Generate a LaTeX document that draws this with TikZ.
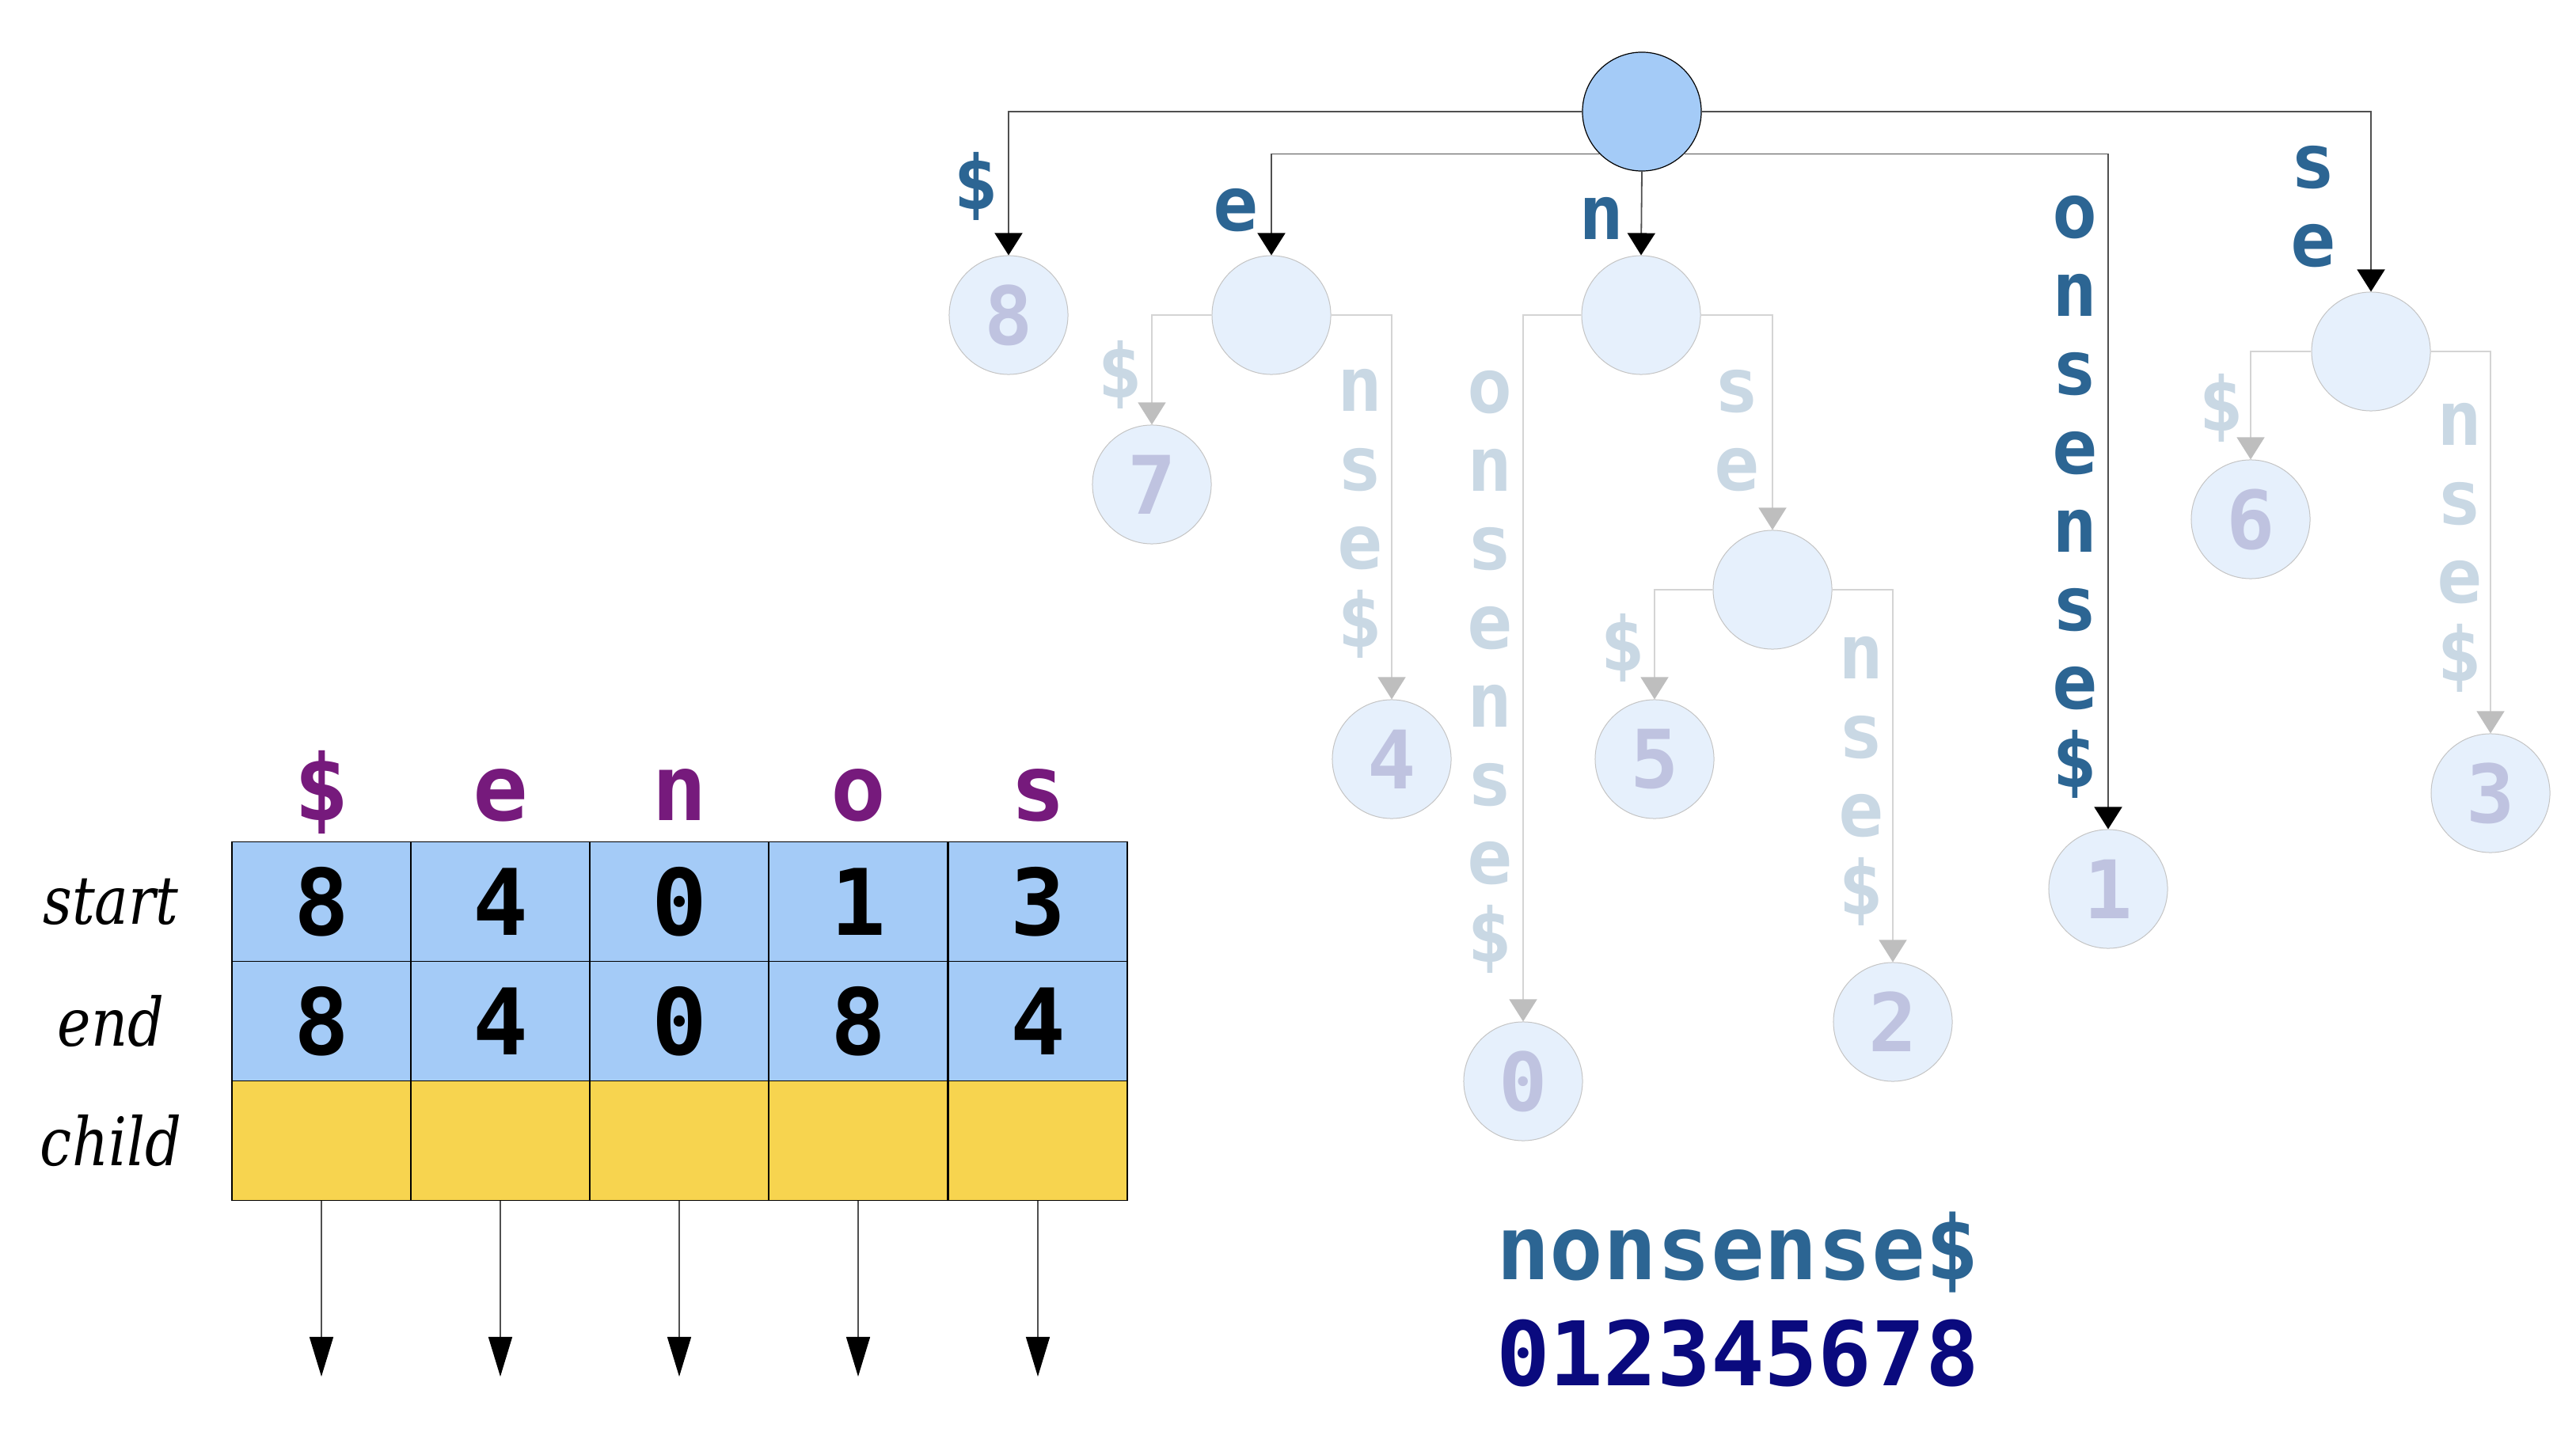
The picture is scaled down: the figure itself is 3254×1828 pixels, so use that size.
\documentclass[tikz,border=0pt]{standalone}
\usepackage{fontspec}
\usetikzlibrary{arrows.meta}
\newfontfamily\monof{DejaVu Sans Mono}
\newfontfamily\serifit[FakeStretch=0.85]{DejaVu Serif}
\definecolor{rootblue}{HTML}{A4CBF7}
\definecolor{tabyellow}{HTML}{F7D44F}
\definecolor{fadefill}{HTML}{E6F0FC}
\definecolor{fadeborder}{HTML}{C4C4C4}
\definecolor{fadenum}{HTML}{BFC3E0}
\definecolor{mainlab}{HTML}{2C6593}
\definecolor{fadelab}{HTML}{C9D8E4}
\definecolor{fadeline}{HTML}{D4D4D4}
\definecolor{fadetip}{HTML}{BEBEBE}
\definecolor{edgegray}{HTML}{505050}
\definecolor{purp}{HTML}{761A7C}
\definecolor{navyd}{HTML}{0A0A7E}
\begin{document}
\begin{tikzpicture}[x=0.01cm,y=-0.01cm,
  rootnode/.style={circle,draw=black,line width=0.012cm,fill=rootblue,minimum size=1.5cm,inner sep=0pt},
  fnode/.style={circle,draw=fadeborder,line width=0.01cm,fill=fadefill,minimum size=1.5cm,inner sep=0pt,text=fadenum,font=\monof\bfseries\fontsize{29}{30}\selectfont},
  medge/.style={draw=edgegray,line width=0.018cm,-{Triangle[width=0.35cm,length=0.28cm,color=black]}},
  fedge/.style={draw=fadeline,line width=0.014cm,-{Triangle[width=0.35cm,length=0.28cm,color=fadetip]}},
  mlabel/.style={text=mainlab,font=\monof\bfseries\fontsize{27}{28.2}\selectfont,align=center,inner sep=0pt},
  flabel/.style={mlabel,text=fadelab},
  cellb/.style={rectangle,draw=black,line width=0.015cm,fill=rootblue,minimum width=2.262cm,minimum height=1.51cm,inner sep=0pt,font=\monof\bfseries\fontsize{33}{33}\selectfont},
  celly/.style={cellb,fill=tabyellow},
  header/.style={text=purp,font=\monof\bfseries\fontsize{33}{33}\selectfont,anchor=base,inner sep=0pt},
  rowlab/.style={font=\serifit\itshape\fontsize{24}{24}\selectfont,inner sep=0pt},
  tarrow/.style={draw=edgegray,line width=0.014cm,-{Triangle[width=0.3cm,length=0.5cm,color=black]}},
  bigtext/.style={font=\monof\bfseries\fontsize{32}{32}\selectfont,anchor=base,inner sep=0pt}
]
\useasboundingbox (0,0) rectangle (3254,1828);

% tree nodes
\node[rootnode] (root) at (2074,141) {};
\node[fnode] (n8) at (1274,398) {8};
\node[fnode] (ne) at (1606,398) {};
\node[fnode] (nn) at (2073,398) {};
\node[fnode] (nse) at (2995,444) {};
\node[fnode] (n1) at (2663,1123) {1};
\node[fnode] (n7) at (1455,612) {7};
\node[fnode] (n4) at (1758,959) {4};
\node[fnode] (n0) at (1924,1366) {0};
\node[fnode] (nsen) at (2239,745) {};
\node[fnode] (n5) at (2090,959) {5};
\node[fnode] (n2) at (2391,1291) {2};
\node[fnode] (n6) at (2843,656) {6};
\node[fnode] (n3) at (3146,1002) {3};

% faded edges
\draw[fedge] (ne.west) -| (n7.north);
\draw[fedge] (ne.east) -| (n4.north);
\draw[fedge] (nn.west) -| (n0.north);
\draw[fedge] (nn.east) -| (nsen.north);
\draw[fedge] (nsen.west) -| (n5.north);
\draw[fedge] (nsen.east) -| (n2.north);
\draw[fedge] (nse.west) -| (n6.north);
\draw[fedge] (nse.east) -| (n3.north);

% main edges
\draw[medge] (root.west) -| (n8.north);
\draw[medge] (root.south west) -| (ne.north);
\draw[medge] (root.south) -- (nn.north);
\draw[medge] (root.south east) -| (n1.north);
\draw[medge] (root.east) -| (nse.north);

% main labels
\node[mlabel] (l8) at (1233,235) {\$};
\node[mlabel] (le) at (1561,266) {e};
\node[mlabel] (ln) at (2023,276) {n};
\node[mlabel] (l1) at (2621,628) {o\\n\\s\\e\\n\\s\\e\\\$};
\node[mlabel] (lse) at (2922,261) {s\\e};

% faded labels
\node[flabel] (l7) at (1415,473) {\$};
\node[flabel] (l4) at (1718,649) {n\\s\\e\\\$};
\node[flabel] (l0) at (1882,849) {o\\n\\s\\e\\n\\s\\e\\\$};
\node[flabel] (lsen) at (2194,544) {s\\e};
\node[flabel] (l5) at (2050,818) {\$};
\node[flabel] (l2) at (2351,987) {n\\s\\e\\\$};
\node[flabel] (l6) at (2806,515) {\$};
\node[flabel] (l3) at (3107,692) {n\\s\\e\\\$};

% table headers
\node[header] (h1) at (406,1036) {\$};
\node[header] (h2) at (632,1036) {e};
\node[header] (h3) at (858,1036) {n};
\node[header] (h4) at (1084,1036) {o};
\node[header] (h5) at (1311,1036) {s};

% row labels
\node[rowlab] (rs) at (140,1139) {start};
\node[rowlab] (re) at (140,1290) {end};
\node[rowlab] (rc) at (140,1441) {child};

% table cells
\node[cellb] (s1) at (406,1139) {8};
\node[cellb] (s2) at (632,1139) {4};
\node[cellb] (s3) at (858,1139) {0};
\node[cellb] (s4) at (1084,1139) {1};
\node[cellb] (s5) at (1311,1139) {3};
\node[cellb] (e1) at (406,1290) {8};
\node[cellb] (e2) at (632,1290) {4};
\node[cellb] (e3) at (858,1290) {0};
\node[cellb] (e4) at (1084,1290) {8};
\node[cellb] (e5) at (1311,1290) {4};
\node[celly] (c1) at (406,1441) {};
\node[celly] (c2) at (632,1441) {};
\node[celly] (c3) at (858,1441) {};
\node[celly] (c4) at (1084,1441) {};
\node[celly] (c5) at (1311,1441) {};

% child arrows
\coordinate (a1) at (406,1739);
\coordinate (a2) at (632,1739);
\coordinate (a3) at (858,1739);
\coordinate (a4) at (1084,1739);
\coordinate (a5) at (1311,1739);
\draw[tarrow] (c1.south) -- (a1);
\draw[tarrow] (c2.south) -- (a2);
\draw[tarrow] (c3.south) -- (a3);
\draw[tarrow] (c4.south) -- (a4);
\draw[tarrow] (c5.south) -- (a5);

% string
\node[bigtext,text=mainlab] (str) at (2195,1616) {nonsense\$};
\node[bigtext,text=navyd] (idx) at (2195,1750) {012345678};
\end{tikzpicture}
\end{document}
